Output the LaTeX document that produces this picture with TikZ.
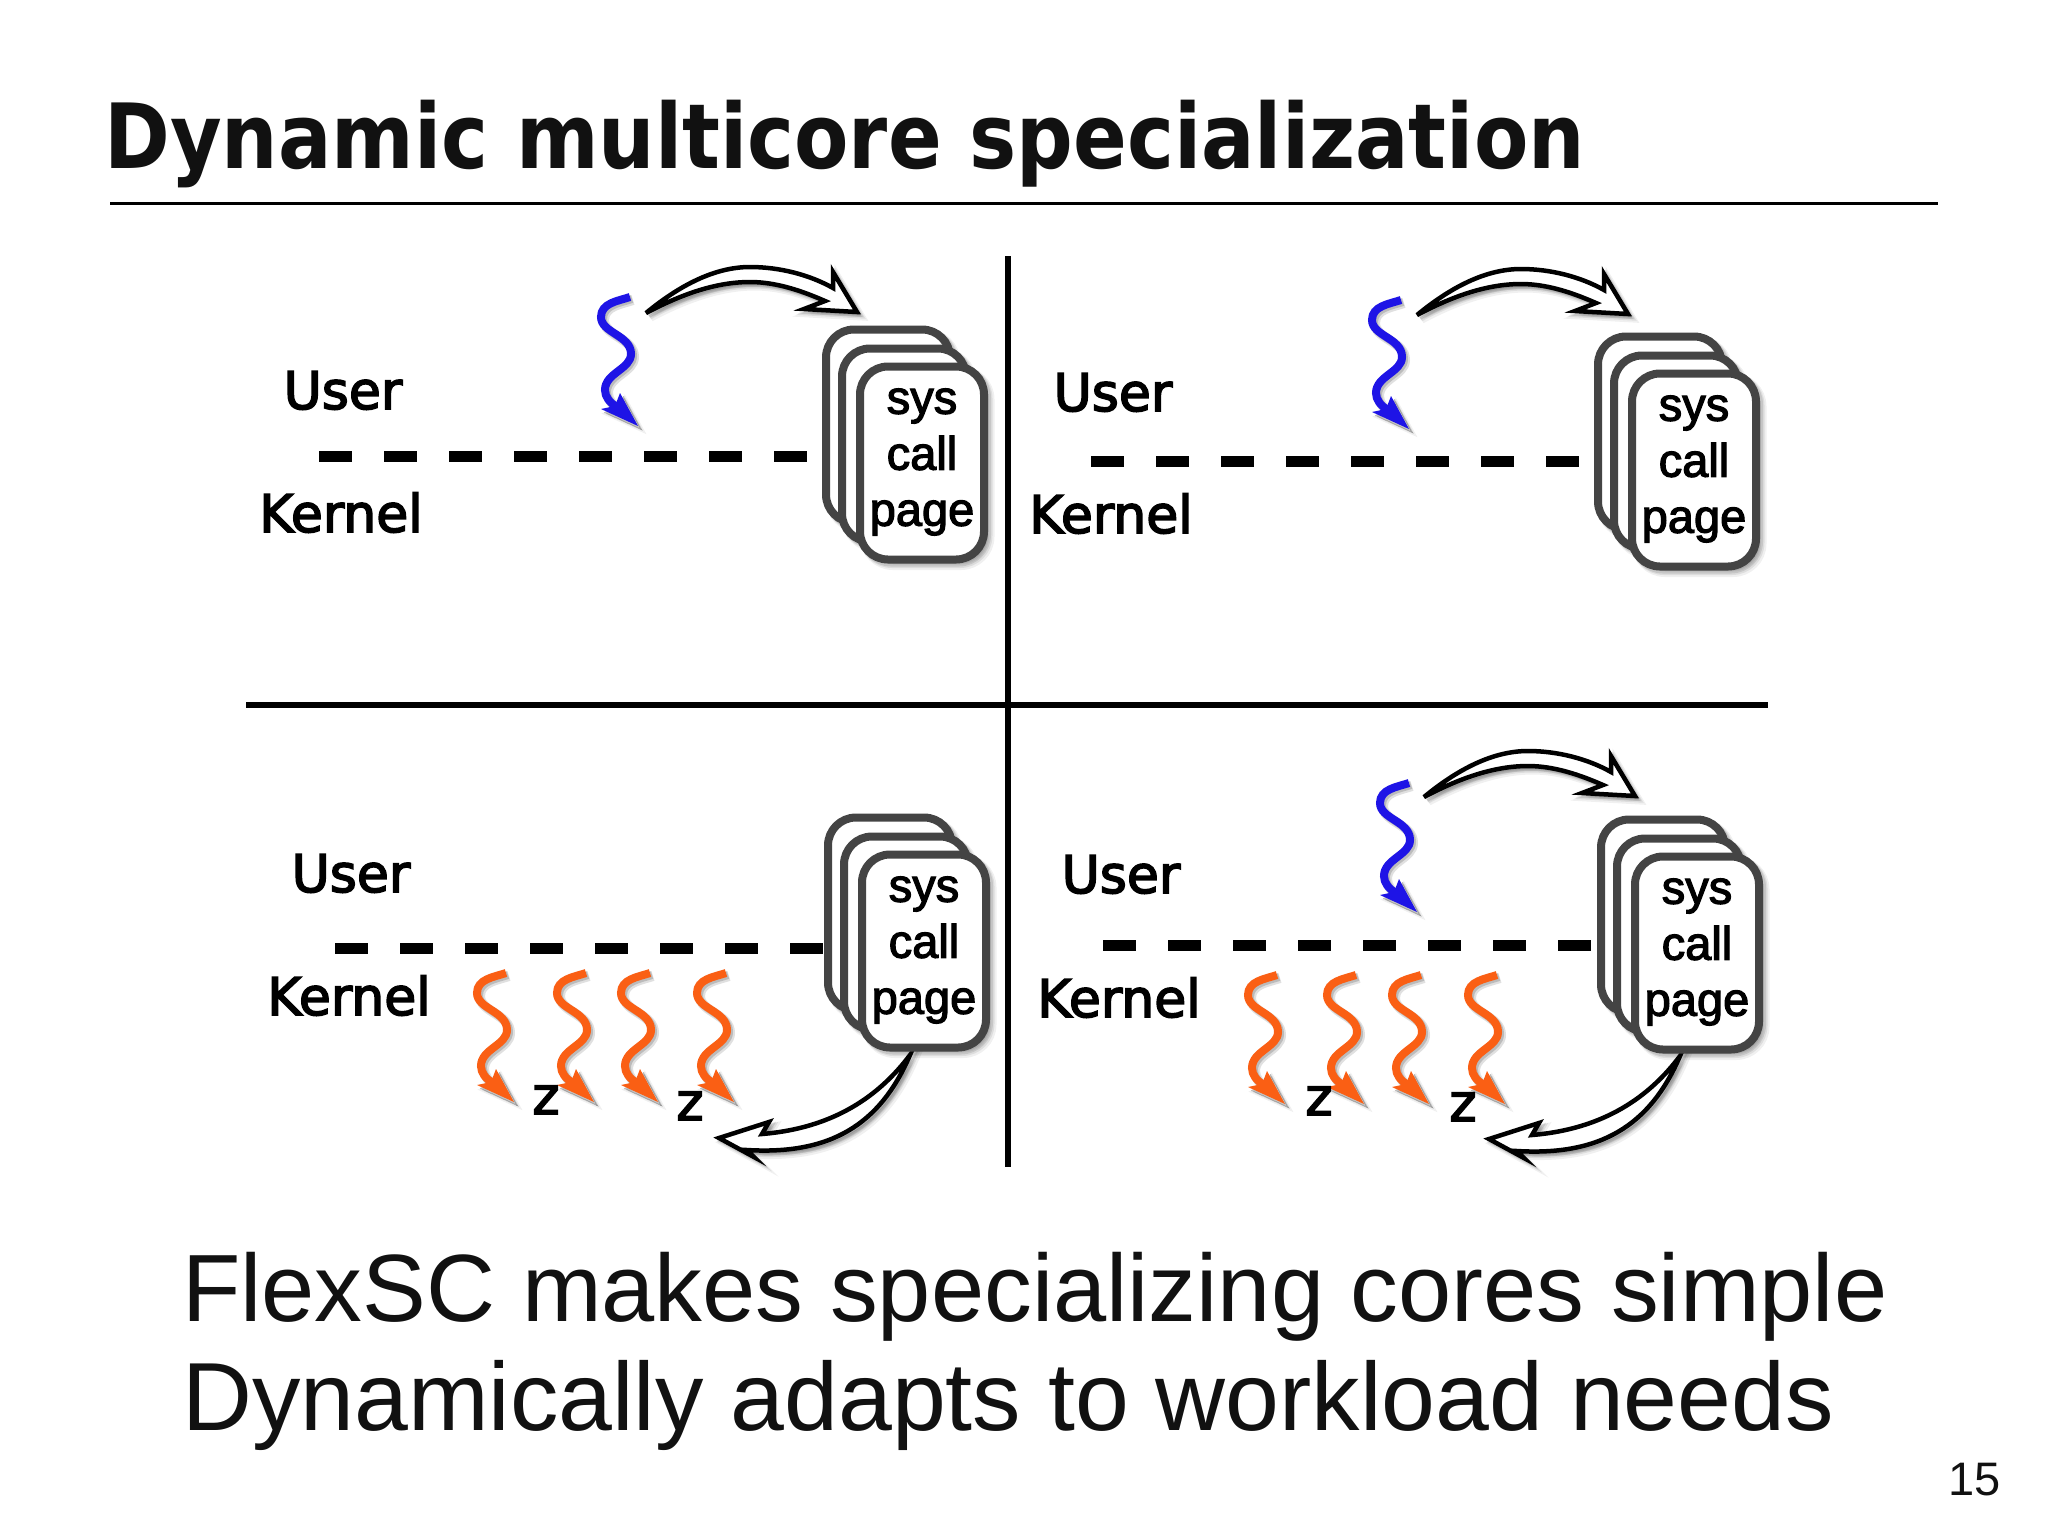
\documentclass[tikz,border=0pt]{standalone}
\usepackage{fontspec}
\usetikzlibrary{shadows}
\setmainfont{Liberation Sans}
\newfontfamily\titlefont{DejaVu Sans Bold}[FakeStretch=0.881]
\newfontfamily\labelfont{DejaVu Sans}[FakeBold=3]
\newfontfamily\pagefont{Liberation Sans}[FakeBold=2.5]
\definecolor{inkblack}{HTML}{111111}
\definecolor{stackgrey}{HTML}{444444}
\definecolor{threadblue}{HTML}{1E14E6}
\definecolor{threadorange}{HTML}{FA5F14}
\tikzset{
  softshadow/.style={
    general shadow={shadow xshift=5pt,shadow yshift=-5pt,opacity=.06,fill=black,draw=black,line width=#1+3pt},
    general shadow={shadow xshift=4pt,shadow yshift=-4pt,opacity=.08,fill=black,draw=black,line width=#1+1pt},
    general shadow={shadow xshift=3pt,shadow yshift=-3pt,opacity=.10,fill=black,draw=black,line width=#1}},
  lineshadow/.style={
    general shadow={shadow xshift=3pt,shadow yshift=-3pt,opacity=.12,draw=black,line width=10pt},
    general shadow={shadow xshift=2pt,shadow yshift=-2pt,opacity=.16,draw=black,line width=8pt}},
  page/.style={draw=stackgrey,fill=white,line width=8pt,rounded corners=28pt,
    minimum width=124pt,minimum height=193pt,inner sep=0pt,softshadow=8pt},
  pagetext/.style={align=center,inner sep=0pt,font=\pagefont\fontsize{47}{56}\selectfont},
  label/.style={anchor=base,inner sep=0pt,font=\labelfont\fontsize{52}{56}\selectfont},
  bodytext/.style={anchor=base west,inner sep=0pt,text=inkblack,font=\fontsize{#1}{100}\selectfont},
  rule/.style={draw=black,line width=6pt},
  kerneldash/.style={draw=black,line width=11pt,dash pattern=on 33pt off 32pt},
  fatarrow/.style={draw=black,fill=white,line width=4.5pt,miter limit=10,softshadow=4pt},
  thread/.style={draw=#1,line width=8pt,lineshadow},
  threadhead/.style={fill=#1,softshadow=0pt}
}
% name, front page centre
\newcommand{\pagestack}[3]{
  \node[page] (#1back) at (#2-34,#3-37) {};
  \node[page] (#1mid) at (#2-18,#3-18) {};
  \node[page] (#1front) at (#2,#3) {};
  \node[pagetext] (#1text) at (#2,#3-1) {sys\\call\\page};
}
% name, x and y of the user label, x and y of the kernel label, dash start and end, dash height
\newcommand{\split}[8]{
  \node[label] (#1user) at (#2,#3) {User};
  \node[label] (#1kernel) at (#4,#5) {Kernel};
  \coordinate (#1l) at (#6,#8);
  \coordinate (#1r) at (#7,#8);
  \draw[kerneldash] (#1l) -- (#1r);
}
% colour, x and y of the tail
\newcommand{\wiggle}[3]{
  \begin{scope}[shift={(#2,#3)}]
    \draw[thread=#1] (0,0) .. controls (-12,4) and (-29,6) .. (-29,20)
      .. controls (-29,36) and (1,38) .. (1,57)
      .. controls (1,72) and (-25,76) .. (-25,93)
      .. controls (-25,100) and (-20,106) .. (-13,110);
    \fill[threadhead=#1] (8,129) -- (-29,112) -- (-15,109) -- (-10,96) -- cycle;
  \end{scope}
}
\newcommand{\toparrow}[2]{
  \begin{scope}[shift={(#1,#2)}]
    \draw[fatarrow] (646,313) .. controls (680,285) and (715,267) .. (750,267)
      .. controls (780,267) and (810,275) .. (833,288) -- (833,272) -- (857,312)
      -- (804,309) -- (825,301) .. controls (800,290) and (775,282) .. (750,282)
      .. controls (715,282) and (680,295) .. (646,313) -- cycle;
  \end{scope}
}
\newcommand{\bottomarrow}[2]{
  \begin{scope}[shift={(#1,#2)}]
    \draw[fatarrow] (910,1055) .. controls (880,1095) and (835,1128) .. (762,1134)
      -- (769,1122) -- (719,1138) -- (754,1157) -- (747,1150)
      .. controls (830,1155) and (880,1125) .. (910,1055) -- cycle;
  \end{scope}
}
\begin{document}
\begin{tikzpicture}[x=1pt,y=-1pt]
\useasboundingbox (0,0) rectangle (2048,1535);
\fill[white] (0,0) rectangle (2048,1535);

\node[anchor=base west,inner sep=0pt,text=inkblack,font=\titlefont\fontsize{90}{100}\selectfont]
  (title) at (104,168) {Dynamic multicore specialization};
\coordinate (rulel) at (110,203);
\coordinate (ruler) at (1938,203);
\draw[draw=black,line width=3pt] (rulel) -- (ruler);

% cross
\coordinate (crosst) at (1008,256);
\coordinate (crossb) at (1008,1167);
\coordinate (crossl) at (246,705);
\coordinate (crossr) at (1768,705);
\draw[rule] (crosst) -- (crossb);
\draw[rule] (crossl) -- (crossr);

% top left
\split{a}{343}{409}{341}{532}{319}{807}{456}
\wiggle{threadblue}{630}{297}
\toparrow{0}{0}
\pagestack{a}{922}{463}

% top right
\split{b}{1113}{411}{1111}{533}{1091}{1579}{461}
\wiggle{threadblue}{1401}{300}
\toparrow{771}{2}
\pagestack{b}{1694}{470}

% bottom left
\split{c}{351}{892}{349}{1015}{335}{823}{948}
\wiggle{threadorange}{506}{973}
\wiggle{threadorange}{586}{973}
\wiggle{threadorange}{650}{973}
\wiggle{threadorange}{726}{973}
\node[label] (cz1) at (546,1114) {z};
\node[label] (cz2) at (690,1120) {z};
\bottomarrow{0}{0}
\pagestack{c}{924}{951}

% bottom right
\split{d}{1121}{893}{1119}{1017}{1103}{1594}{945}
\wiggle{threadblue}{1409}{783}
\toparrow{778}{484}
\wiggle{threadorange}{1277}{975}
\wiggle{threadorange}{1356}{975}
\wiggle{threadorange}{1421}{975}
\wiggle{threadorange}{1497}{975}
\node[label] (dz1) at (1319,1115) {z};
\node[label] (dz2) at (1463,1121) {z};
\bottomarrow{770}{1}
\pagestack{d}{1697}{953}

\node[bodytext=95.6] (line1) at (182,1321) {FlexSC makes specializing cores simple};
\node[bodytext=96.8] (line2) at (182,1430) {Dynamically adapts to workload needs};
\node[anchor=base west,inner sep=0pt,text=inkblack,font=\fontsize{47}{50}\selectfont] (pageno) at (1948,1495) {15};
\end{tikzpicture}
\end{document}
